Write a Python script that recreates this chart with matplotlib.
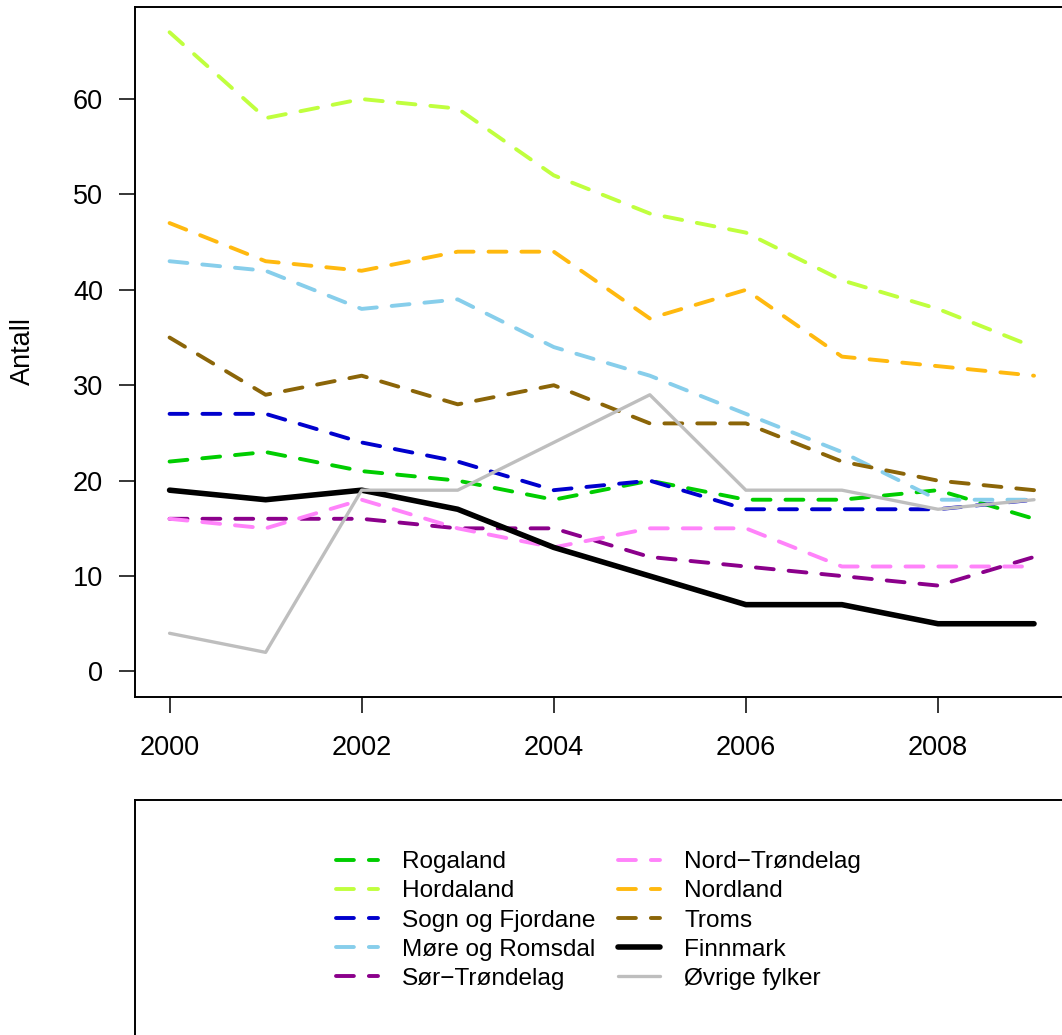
import matplotlib
matplotlib.use("Agg")
import matplotlib.pyplot as plt
from matplotlib.lines import Line2D

plt.rcParams['font.family'] = ['Liberation Sans', 'DejaVu Sans']

# data
years = [2000, 2001, 2002, 2003, 2004, 2005, 2006, 2007, 2008, 2009]
names = ['Rogaland', 'Hordaland', 'Sogn og Fjordane', 'Møre og Romsdal',
         'Sør\u2212Trøndelag', 'Nord\u2212Trøndelag', 'Nordland', 'Troms',
         'Finnmark', 'Øvrige fylker']
rogaland = [22, 23, 21, 20, 18, 20, 18, 18, 19, 16]
hordaland = [67, 58, 60, 59, 52, 48, 46, 41, 38, 34]
sogn = [27, 27, 24, 22, 19, 20, 17, 17, 17, 18]
more = [43, 42, 38, 39, 34, 31, 27, 23, 18, 18]
sor_tr = [16, 16, 16, 15, 15, 12, 11, 10, 9, 12]
nord_tr = [16, 15, 18, 15, 13, 15, 15, 11, 11, 11]
nordland = [47, 43, 42, 44, 44, 37, 40, 33, 32, 31]
troms = [35, 29, 31, 28, 30, 26, 26, 22, 20, 19]
finnmark = [19, 18, 19, 17, 13, 10, 7, 7, 5, 5]
ovrige = [4, 2, 19, 19, 24, 29, 19, 19, 17, 18]

series = [rogaland, hordaland, sogn, more, sor_tr, nord_tr, nordland, troms, finnmark, ovrige]
colors = ['#00CD00', '#C0FF3E', '#0000CD', '#87CEEB', '#8B008B',
          '#FF83FA', '#FFB90F', '#8B6508', '#000000', '#BEBEBE']
# style per series: dashed / thick solid / solid
styles = ['d'] * 8 + ['thick', 'solid']

W, H = 1062, 1035
fig = plt.figure(figsize=(W / 100, H / 100), dpi=100)
fs = 19.5
lfs = 17.6

ax = fig.add_axes([135 / W, 1 - 697 / H, (1068.6 - 135) / W, (697 - 6.7) / H])

handles = []
for vals, c, st, nm in zip(series, colors, styles, names):
    if st == 'd':
        kw = dict(lw=2.8, ls=(0, (4.6, 3.85)), dash_capstyle='round')
    elif st == 'thick':
        kw = dict(lw=4.0, ls='-', solid_capstyle='round')
    else:
        kw = dict(lw=2.4, ls='-', solid_capstyle='round')
    ax.plot(years, vals, color=c, solid_joinstyle='round', **kw)
    handles.append(Line2D([], [], color=c, label=nm, **kw))

ax.set_xlim(1999.64, 2009.36)
ax.set_ylim(-2.68, 69.68)
ax.set_xticks([2000, 2002, 2004, 2006, 2008])
ax.set_yticks([0, 10, 20, 30, 40, 50, 60])
ax.tick_params(axis='both', direction='out', length=11.5, width=1.1,
               labelsize=fs, colors='black')
ax.tick_params(axis='x', pad=16)
ax.tick_params(axis='y', pad=11.5)
ax.spines['right'].set_visible(False)
for s in ['left', 'top', 'bottom']:
    ax.spines[s].set_linewidth(1.4)
fig.text(23 / W, 1 - 351 / H, 'Antall', fontsize=fs, rotation=90,
         ha='center', va='center')

# legend panel
lax = fig.add_axes([135 / W, -0.1, 0.95, 1 - 800 / H + 0.1])
lax.set_xticks([])
lax.set_yticks([])
lax.spines['right'].set_visible(False)
lax.spines['bottom'].set_visible(False)
for s in ['left', 'top']:
    lax.spines[s].set_linewidth(1.4)

fig.legend(handles=handles, ncol=2, loc='upper left',
           bbox_to_anchor=(336 / W, 1 - 851 / H), frameon=False,
           fontsize=lfs, handlelength=1.72, handletextpad=0.98,
           columnspacing=0.94, labelspacing=0.29, borderpad=0, borderaxespad=0)

fig.savefig('out.png', dpi=100)
